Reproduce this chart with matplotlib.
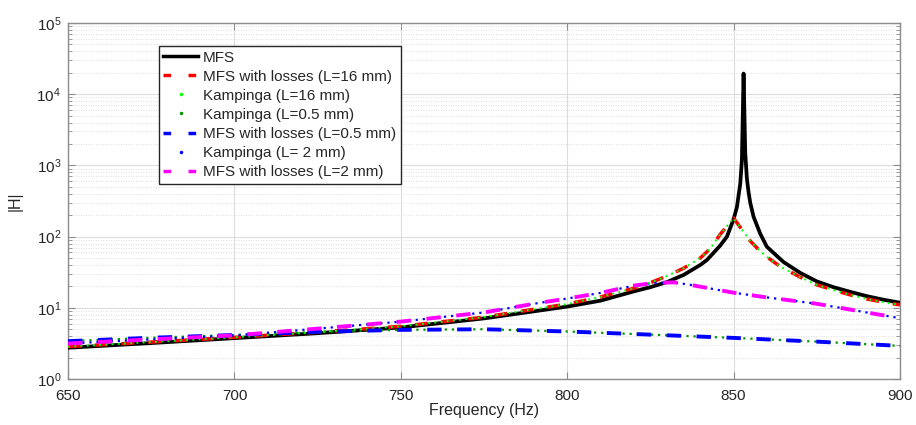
"""|H| vs frequency: lossless MFS, MFS with losses and Kampinga for three tube lengths."""
import numpy as np
import matplotlib
matplotlib.use("Agg")
import matplotlib.pyplot as plt
from matplotlib.lines import Line2D
from matplotlib.ticker import LogLocator, NullFormatter

plt.rcParams["font.family"] = ["Liberation Sans", "DejaVu Sans"]
plt.rcParams["mathtext.default"] = "regular"

# --- values (Hz, |H|)
f_mfs = [650, 675, 700, 725, 750, 775, 800, 810, 820, 825, 830, 835, 840, 842, 846,
         848, 850, 851, 852, 852.5, 853, 853.5, 854, 854.5, 855, 856, 858, 860, 865,
         870, 875, 880, 885, 890, 895, 900]
h_mfs = [2.75, 3.2, 3.75, 4.4, 5.3, 7.1, 10.4, 12.6, 17, 19.5, 23, 29, 40, 47, 75,
         100, 175, 260, 550, 1200, 19500, 1500, 650, 420, 300, 190, 110, 72, 44,
         31, 23.5, 19.5, 16.8, 14.6, 13, 11.8]

f_l16 = [650, 675, 700, 725, 750, 775, 800, 810, 820, 825, 830, 835, 840, 843, 846,
         848, 850, 852, 855, 858, 861, 864, 870, 875, 880, 885, 890, 895, 900]
h_l16 = [2.85, 3.3, 3.85, 4.55, 5.5, 7.4, 11.3, 14.2, 18.8, 22.5, 28, 36, 50, 68, 108,
         140, 182, 135, 87, 62, 48, 38, 27, 21, 17.8, 15.2, 13.3, 12, 11]

f_l05 = [650, 675, 700, 725, 750, 775, 800, 825, 850, 875, 900]
h_l05 = [3.4, 3.8, 4.15, 4.6, 4.9, 5.0, 4.65, 4.2, 3.78, 3.35, 2.92]

f_l2 = [650, 675, 700, 725, 750, 775, 790, 800, 810, 820, 826, 832, 837, 840, 850,
        855, 860, 875, 890, 900]
h_l2 = [3.15, 3.6, 4.1, 5.1, 6.4, 8.6, 11.4, 13.5, 16.2, 20.5, 22.3, 22.8, 21, 19.8, 16.3,
        15.1, 14.0, 11.4, 8.6, 7.15]

labels = ["MFS", "MFS with losses (L=16 mm)", "Kampinga (L=16 mm)", "Kampinga (L=0.5 mm)",
          "MFS with losses (L=0.5 mm)", "Kampinga (L= 2 mm)", "MFS with losses (L=2 mm)"]

TXT = "#262626"
DASH = (3.7, 4.0)
DOTS = (1.0, 2.2)

fig = plt.figure(figsize=(9.16, 4.25), dpi=100)
ax = fig.add_axes([0.0743, 0.1082, 0.9082, 0.8377])

ax.plot(f_mfs, h_mfs, color="black", lw=2.7, zorder=3)
ax.plot(f_l16, h_l16, color="red", lw=2.5, dashes=DASH, zorder=3)
ax.plot(f_l16, h_l16, color="#00ff00", lw=1.4, dashes=DOTS, zorder=4)
ax.plot(f_l05, h_l05, color="#009900", lw=1.6, dashes=DOTS, zorder=3)
ax.plot(f_l05, h_l05, color="blue", lw=2.8, dashes=DASH, zorder=4)
ax.plot(f_l2, h_l2, color="blue", lw=1.6, dashes=DOTS, zorder=3)
ax.plot(f_l2, h_l2, color="magenta", lw=2.8, dashes=DASH, zorder=4)

ax.set_yscale("log")
ax.set_xlim(650, 900)
ax.set_ylim(1, 1e5)
ax.set_xticks(np.arange(650, 901, 50))
ax.yaxis.set_major_locator(LogLocator(base=10, numticks=10))
ax.yaxis.set_minor_locator(LogLocator(base=10, subs=np.arange(2, 10), numticks=20))
ax.yaxis.set_minor_formatter(NullFormatter())

ax.grid(which="major", color="#dcdcdc", lw=0.8, ls="-")
ax.grid(which="minor", axis="y", color="#d4d4d4", lw=0.6, ls=(0, (1, 2)))
ax.set_axisbelow(True)

for s in ax.spines.values():
    s.set_color("#8c8c8c")
    s.set_linewidth(1.0)
ax.tick_params(which="both", direction="in", top=True, right=True,
               colors="#8c8c8c", labelcolor=TXT, labelsize=11)
ax.tick_params(which="major", length=5)
ax.tick_params(which="minor", length=3)
ax.tick_params(axis="x", pad=7)
ax.tick_params(axis="y", pad=5)

ax.set_xlabel("Frequency (Hz)", fontsize=11.5, color=TXT, labelpad=0)
ax.set_ylabel("|H|", fontsize=11.5, color=TXT, labelpad=10)

# legend handles: Kampinga entries show a single dot as in the original
handles = [
    Line2D([], [], color="black", lw=2.5),
    Line2D([], [], color="red", lw=2.5, dashes=(2.2, 5.0)),
    Line2D([], [], ls="none", marker=".", ms=3, color="#00ff00"),
    Line2D([], [], ls="none", marker=".", ms=3, color="#009900"),
    Line2D([], [], color="blue", lw=2.5, dashes=(2.2, 5.0)),
    Line2D([], [], ls="none", marker=".", ms=3, color="blue"),
    Line2D([], [], color="magenta", lw=2.5, dashes=(2.2, 5.0)),
]
leg = ax.legend(handles, labels, loc="upper left", bbox_to_anchor=(0.109, 0.935),
                fontsize=11, frameon=True, fancybox=False, framealpha=1,
                handlelength=2.3, handletextpad=0.3, labelspacing=0.33,
                borderpad=0.3, borderaxespad=0)
leg.get_frame().set_edgecolor("#262626")
leg.get_frame().set_linewidth(1.0)
for t in leg.get_texts():
    t.set_color(TXT)

fig.savefig("out.png", dpi=100)
